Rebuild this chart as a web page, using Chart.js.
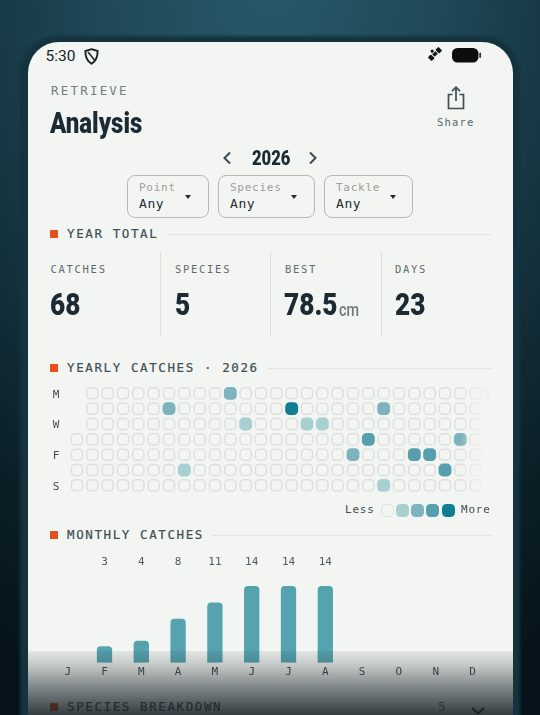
<!DOCTYPE html>
<html><head><meta charset="utf-8">
<style>
html,body{margin:0;padding:0;width:540px;height:715px;overflow:hidden;background:#0d1d24}
#bg{position:absolute;inset:0;background:radial-gradient(ellipse 560px 760px at 270px -20px,#28596a 0%,#1f4957 30%,#14323e 58%,#0b1f27 80%,#06131a 100%)}
#frame{position:absolute;left:20px;top:36px;width:500px;height:740px;border-radius:37px 37px 0 0;background:#15333e;filter:blur(1.5px)}
#card{position:absolute;left:27.5px;top:41.5px;width:485px;height:674px;background:#f2f5f1;border-radius:31px 31px 0 0;overflow:hidden}
.t{position:absolute;white-space:pre;font-family:"DejaVu Sans Mono",monospace;transform-origin:left center}
.b{font-family:Roboto,sans-serif;font-weight:900;color:#1b2a33}
.sq{position:absolute;width:8px;height:8px;background:#e4511b}
.rule{position:absolute;height:1.3px;background:#e1e4df}
.dv{position:absolute;width:1.3px;top:252px;height:84px;background:#dcdfdb}
.dd{position:absolute;top:174.5px;height:43px;border:1.3px solid #b5b9b1;border-radius:8px;box-sizing:border-box}
.caret{position:absolute;width:0;height:0;border-left:3.5px solid transparent;border-right:3.5px solid transparent;border-top:4px solid #1f2c33}
.lg{position:absolute;width:13px;height:13px;top:503.5px;border-radius:4.5px;box-sizing:border-box}
.h{font-size:12.5px;line-height:18px;letter-spacing:1.6px;color:#414e54;-webkit-text-stroke:.2px #414e54}
svg{position:absolute;overflow:visible}
#heatWrap{position:absolute;left:40px;top:380px;width:460px;height:120px}
#barWrap{position:absolute;left:40px;top:550px;width:460px;height:135px}
#fadeR{position:absolute;left:460px;top:384px;width:42px;height:112px;background:linear-gradient(90deg,rgba(242,245,241,0) 0%,rgba(242,245,241,.9) 60%,#f2f5f1 74%,#f2f5f1 100%)}
#fadeB{position:absolute;left:27.5px;top:651px;width:485px;height:64px;background:linear-gradient(180deg,rgba(30,40,46,.07) 0%,rgba(30,40,46,.24) 25%,rgba(28,38,44,.52) 55%,rgba(22,30,35,.86) 100%)}
</style></head><body>
<div id="bg"></div><div id="frame"></div><div id="card"></div>

<div class="t" style="left:45.5px;top:46px;font:15.5px/20px Roboto,sans-serif;color:#16212a">5:30</div>
<svg style="left:84px;top:48px" width="15" height="17" viewBox="0 0 15 17"><path d="M7.5 1.2 L13.6 3 C13.8 8.5 12 13 7.5 15.8 C3 13 1.2 8.5 1.4 3 Z" fill="none" stroke="#16212a" stroke-width="1.9"/><path d="M4 4 L10.5 12" stroke="#16212a" stroke-width="1.6"/></svg>
<svg style="left:427px;top:46px" width="16" height="16" viewBox="0 0 18 18"><g transform="rotate(-45 9 9)" fill="#11181d"><rect x="0.5" y="6" width="5" height="6" rx="1"/><rect x="6.5" y="7" width="5" height="4"/><rect x="12.5" y="6" width="5" height="6" rx="1"/><circle cx="9" cy="4.5" r="1.8"/></g></svg>
<svg style="left:452px;top:48px" width="30" height="15" viewBox="0 0 30 15"><rect x="0" y="0" width="26.5" height="14.6" rx="5.5" fill="#0b0d0f"/><rect x="27.3" y="4.5" width="1.8" height="5.5" rx=".9" fill="#33393d"/></svg>

<div class="t" style="left:51px;top:82px;font-size:12.5px;line-height:18px;letter-spacing:2.2px;color:#727f7f">RETRIEVE</div>
<div class="t b" style="left:50px;top:104px;font-size:30px;line-height:38px;transform:scaleX(.8)">Analysis</div>
<svg style="left:447px;top:86px" width="18" height="24" viewBox="0 0 18 24"><path d="M5.5 8.5H1.5V22.5H16.5V8.5H12.5" fill="none" stroke="#3e4f57" stroke-width="1.7"/><path d="M9 15V1.5M5 5.2 9 1.2 13 5.2" fill="none" stroke="#3e4f57" stroke-width="1.7"/></svg>
<div class="t" style="left:437px;top:114px;font-size:10.5px;line-height:16px;letter-spacing:1.2px;color:#59666a">Share</div>

<svg style="left:222px;top:151px" width="10" height="14" viewBox="0 0 10 14"><path d="M8 1.5 2.5 7 8 12.5" fill="none" stroke="#3c4a51" stroke-width="2"/></svg>
<div class="t b" style="left:251.5px;top:146px;font-size:20px;line-height:24px;transform:scaleX(.83)">2026</div>
<svg style="left:308px;top:151px" width="10" height="14" viewBox="0 0 10 14"><path d="M2 1.5 7.5 7 2 12.5" fill="none" stroke="#3c4a51" stroke-width="2"/></svg>

<div class="dd" style="left:126.5px;width:82px"></div>
<div class="dd" style="left:217.5px;width:97.5px"></div>
<div class="dd" style="left:323.5px;width:89.5px"></div>
<div class="t" style="left:139px;top:180px;font-size:11px;line-height:16px;letter-spacing:.75px;color:#9aa09b">Point</div>
<div class="t" style="left:230px;top:180px;font-size:11px;line-height:16px;letter-spacing:.75px;color:#9aa09b">Species</div>
<div class="t" style="left:336px;top:180px;font-size:11px;line-height:16px;letter-spacing:.75px;color:#9aa09b">Tackle</div>
<div class="t" style="left:139px;top:195.5px;font-size:13px;line-height:16px;letter-spacing:.6px;color:#1f2c33">Any</div>
<div class="t" style="left:230px;top:195.5px;font-size:13px;line-height:16px;letter-spacing:.6px;color:#1f2c33">Any</div>
<div class="t" style="left:336px;top:195.5px;font-size:13px;line-height:16px;letter-spacing:.6px;color:#1f2c33">Any</div>
<div class="caret" style="left:185px;top:195px"></div>
<div class="caret" style="left:291px;top:195px"></div>
<div class="caret" style="left:390px;top:195px"></div>

<div class="sq" style="left:49.5px;top:230px"></div>
<div class="t h" style="left:67px;top:225px">YEAR TOTAL</div>
<div class="rule" style="left:166px;top:233.5px;width:325px"></div>

<div class="t" style="left:50.5px;top:261px;font-size:10.5px;line-height:16px;letter-spacing:1.7px;color:#5f6b6e">CATCHES</div>
<div class="t" style="left:175px;top:261px;font-size:10.5px;line-height:16px;letter-spacing:1.7px;color:#5f6b6e">SPECIES</div>
<div class="t" style="left:285px;top:261px;font-size:10.5px;line-height:16px;letter-spacing:1.7px;color:#5f6b6e">BEST</div>
<div class="t" style="left:395px;top:261px;font-size:10.5px;line-height:16px;letter-spacing:1.7px;color:#5f6b6e">DAYS</div>
<div class="dv" style="left:160px"></div><div class="dv" style="left:270px"></div><div class="dv" style="left:380.5px"></div>
<div class="t b" style="left:50px;top:284px;font-size:32px;line-height:40px;transform:scaleX(.82)">68</div>
<div class="t b" style="left:174.5px;top:284px;font-size:32px;line-height:40px;transform:scaleX(.82)">5</div>
<div class="t b" style="left:284px;top:284px;font-size:32px;line-height:40px;transform:scaleX(.82)">78.5</div>
<div class="t b" style="left:339px;top:298px;font-size:18px;line-height:24px;transform:scaleX(.8);color:#6c787c;font-weight:500">cm</div>
<div class="t b" style="left:394.5px;top:284px;font-size:32px;line-height:40px;transform:scaleX(.82)">23</div>

<div class="sq" style="left:49.5px;top:363.5px"></div>
<div class="t h" style="left:67px;top:359px">YEARLY CATCHES · 2026</div>
<div class="rule" style="left:268px;top:367.5px;width:223px"></div>

<div id="heatWrap"><canvas id="heat"></canvas></div>
<div id="fadeR"></div>

<div class="t" style="left:345px;top:502px;font-size:11px;line-height:16px;letter-spacing:.8px;color:#3f4c52">Less</div>
<div class="lg" style="left:380.5px;border:1.6px solid #dde0da"></div>
<div class="lg" id="lg1" style="left:395.5px"></div>
<div class="lg" id="lg2" style="left:411px"></div>
<div class="lg" id="lg3" style="left:426px"></div>
<div class="lg" id="lg4" style="left:441.5px"></div>
<div class="t" style="left:461px;top:502px;font-size:11px;line-height:16px;letter-spacing:.8px;color:#3f4c52">More</div>

<div class="sq" style="left:49.5px;top:531px"></div>
<div class="t h" style="left:67px;top:526px">MONTHLY CATCHES</div>
<div class="rule" style="left:212px;top:534.5px;width:279px"></div>

<div id="barWrap"><canvas id="bars"></canvas></div>

<div class="sq" style="left:49.5px;top:703px"></div>
<div class="t h" style="left:67px;top:698px">SPECIES BREAKDOWN</div>
<div class="t" style="left:438px;top:698px;font-size:12.5px;line-height:18px;color:#5f6b6e">5</div>
<svg style="left:471px;top:707px" width="14" height="8" viewBox="0 0 14 8"><path d="M1 1 7 6.5 13 1" fill="none" stroke="#1f2c33" stroke-width="2"/></svg>
<div id="fadeB"></div>

<script src="https://cdn.jsdelivr.net/npm/chart.js@4/dist/chart.umd.min.js"></script>
<script>
// Monthly chart data
const monthLabels = ["J","F","M","A","M","J","J","A","S","O","N","D"];
const monthValues = [0,3,4,8,11,14,14,14,0,0,0,0];

// Heatmap data: intensity level per week (0 = empty cell, null = no cell)
const dayLabels = ["M","","W","","F","","S"];
const weekLabels = ["W1","W2","W3","W4","W5","W6","W7","W8","W9","W10","W11","W12","W13","W14","W15","W16","W17","W18","W19","W20","W21","W22","W23","W24","W25","W26","W27","W28"];
const monLevels = [null,0,0,0,0,0,0,0,0,0,2,0,0,0,0,0,0,0,0,0,0,0,0,0,0,0,0,1];
const tueLevels = [null,0,0,0,0,0,2,0,0,0,0,0,0,0,4,0,0,0,0,0,2,0,0,0,0,0,0,null];
const wedLevels = [null,0,0,0,0,0,0,0,0,0,0,1,0,0,0,1,1,0,0,0,0,0,0,0,0,0,0,null];
const thuLevels = [0,0,0,0,0,0,0,0,0,0,0,0,0,0,0,0,0,0,0,3,0,0,0,0,0,2,0,null];
const friLevels = [0,0,0,0,0,0,0,0,0,0,0,0,0,0,0,0,0,0,2,0,0,0,3,3,0,0,0,null];
const satLevels = [0,0,0,0,0,0,0,1,0,0,0,0,0,0,0,0,0,0,0,0,0,0,0,0,3,0,0,null];
const sunLevels = [0,0,0,0,0,0,0,0,0,0,0,0,0,0,0,0,0,0,0,0,1,0,0,0,0,0,0,null];
const rows = [monLevels,tueLevels,wedLevels,thuLevels,friLevels,satLevels,sunLevels];
const levelColors = ["rgba(0,0,0,0)","#a8d0d1","#7db3bd","#569fad","#0f7e90"];
const emptyBorder = "#dde0da";
const monoFont = "'DejaVu Sans Mono', monospace";

[1,2,3,4].forEach(l => document.getElementById("lg"+l).style.background = levelColors[l]);
Chart.defaults.animation = false;

new Chart(document.getElementById("heat"), {
  type: "bar",
  data: {
    labels: weekLabels,
    datasets: rows.map((levels, r) => ({
      label: "row" + r,
      data: levels.map(l => l === null ? null : [r - 0.42, r + 0.42]),
      backgroundColor: levels.map(l => levelColors[l || 0]),
      borderColor: emptyBorder,
      borderWidth: levels.map(l => l ? 0 : 1.6),
      borderSkipped: false,
      borderRadius: 4.5,
      grouped: false,
      barPercentage: 0.84,
      categoryPercentage: 1
    }))
  },
  options: {
    responsive: true, maintainAspectRatio: false,
    layout: { padding: { left: 0, right: 1.33, top: 5.67, bottom: 7 } },
    plugins: { legend: { display: false }, tooltip: { enabled: false } },
    scales: {
      x: { display: false },
      y: {
        reverse: true, min: -0.5, max: 6.5,
        grid: { display: false, drawTicks: false }, border: { display: false },
        afterBuildTicks(s) { s.ticks = dayLabels.map((_, i) => ({ value: i })); },
        afterFit(s) { s.width = 29.33; s.paddingTop = 0; s.paddingBottom = 0; },
        ticks: { autoSkip: false, padding: 10, labelOffset: 1.5, color: "#3f4c52",
          font: { family: monoFont, size: 11 },
          callback: v => dayLabels[v] || "" }
      }
    }
  }
});

new Chart(document.getElementById("bars"), {
  type: "bar",
  data: {
    labels: monthLabels,
    datasets: [{
      label: "Monthly catches",
      data: monthValues,
      backgroundColor: "#55a3ae",
      borderRadius: { topLeft: 4, topRight: 4, bottomLeft: 0, bottomRight: 0 },
      borderSkipped: false,
      barPercentage: 0.416,
      categoryPercentage: 1
    }]
  },
  options: {
    responsive: true, maintainAspectRatio: false,
    layout: { padding: { left: 9.3, right: 9.1, top: 0, bottom: 0 } },
    plugins: { legend: { display: false }, tooltip: { enabled: false } },
    scales: {
      x: {
        grid: { display: false, drawTicks: false }, border: { display: false },
        afterFit(s) { s.height = 22.3; },
        ticks: { padding: 3, maxRotation: 0, autoSkip: false, color: "#3f4c52",
          font: { family: monoFont, size: 11 } }
      },
      x2: {
        type: "category", position: "top", offset: true, labels: monthLabels,
        grid: { display: false, drawTicks: false }, border: { display: false },
        afterFit(s) { s.height = 36; },
        ticks: { padding: 17, maxRotation: 0, autoSkip: false, color: "#4f5c61",
          font: { family: monoFont, size: 11 },
          callback: (v, i) => monthValues[i] ? String(monthValues[i]) : "" }
      },
      y: { display: false, min: 0, max: 14 }
    }
  }
});
</script>
</body></html>
